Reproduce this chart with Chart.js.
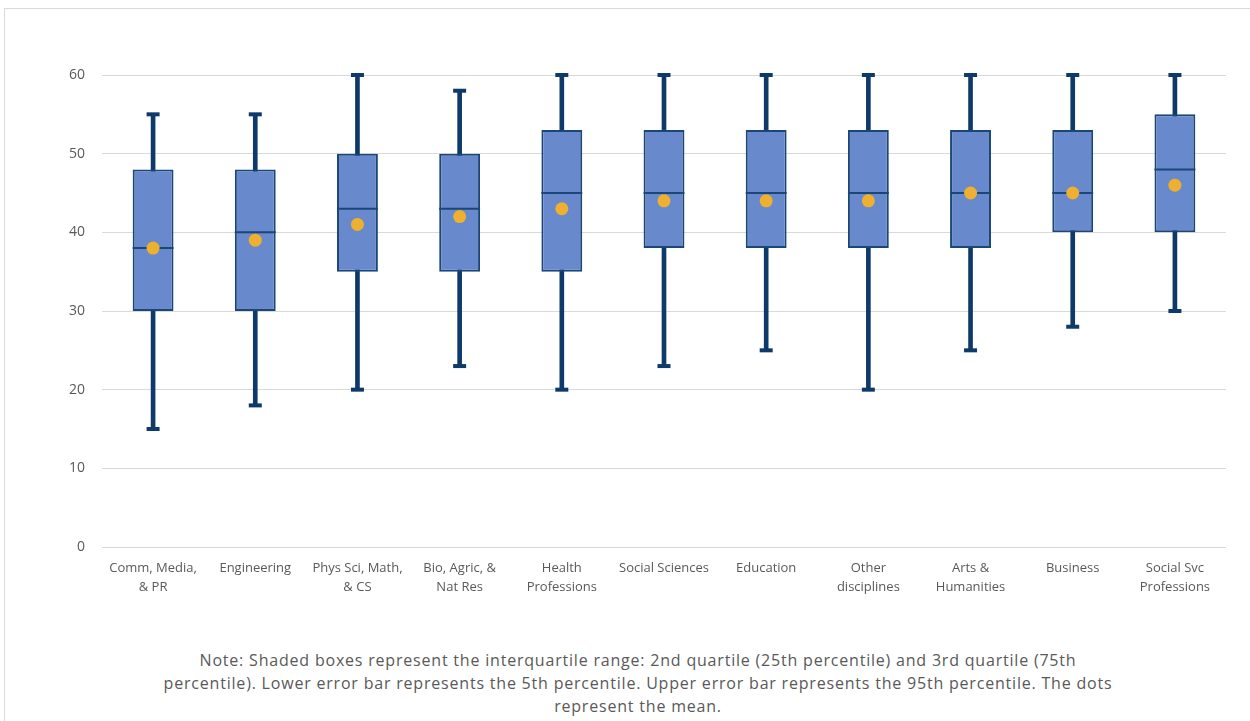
<!DOCTYPE html>
<html>
<head>
<meta charset="utf-8">
<script src="https://cdn.jsdelivr.net/npm/chart.js@4.4.1/dist/chart.umd.min.js"></script>
<style>
  html, body { margin: 0; padding: 0; background: #fff; }
  body { width: 1250px; height: 721px; position: relative; overflow: hidden; }
  #frame { position: absolute; left: 4px; top: 8px; width: 1260px; height: 730px; border: 1px solid #d9d9d9; box-sizing: border-box; }
  #wrap { position: absolute; left: 0; top: 0; width: 1250px; height: 620px; }
  #note { position: absolute; left: 0; top: 649px; width: 1276px; text-align: center;
          font-family: "Open Sans", "Liberation Sans", Arial, sans-serif; font-size: 16px; letter-spacing: 0.8px;
          line-height: 23px; color: #595959; }
</style>
</head>
<body>
<div id="frame"></div>
<div id="wrap"><canvas id="c" width="1250" height="620"></canvas></div>
<div id="note">Note: Shaded boxes represent the interquartile range: 2nd quartile (25th percentile) and 3rd quartile (75th<br>percentile). Lower error bar represents the 5th percentile. Upper error bar represents the 95th percentile. The dots<br>represent the mean.</div>
<script>
const categories = [
  ["Comm, Media,", "& PR"],
  "Engineering",
  ["Phys Sci, Math,", "& CS"],
  ["Bio, Agric, &", "Nat Res"],
  ["Health", "Professions"],
  "Social Sciences",
  "Education",
  ["Other", "disciplines"],
  ["Arts &", "Humanities"],
  "Business",
  ["Social Svc", "Professions"]
];
const p5     = [15, 18, 20, 23, 20, 23, 25, 20, 25, 28, 30];
const q1     = [30, 30, 35, 35, 35, 38, 38, 38, 38, 40, 40];
const median = [38, 40, 43, 43, 45, 45, 45, 45, 45, 45, 48];
const q3     = [48, 48, 50, 50, 53, 53, 53, 53, 53, 53, 55];
const p95    = [55, 55, 60, 58, 60, 60, 60, 60, 60, 60, 60];
const mean   = [38, 39, 41, 42, 43, 44, 44, 44, 45, 45, 46];
const yTicks = [0, 10, 20, 30, 40, 50, 60];

const NAVY = "#0e3a6b";
const BOX_BORDER = "#1a4778";
const BOX_FILL = "#6889cb";
const DOT = "#efb02f";

const boxExtras = {
  id: "boxExtras",
  afterDatasetDraw(chart, args) {
    if (args.index !== 1) return;
    const ctx = chart.ctx;
    const x = chart.scales.x, y = chart.scales.y;
    const boxMeta = chart.getDatasetMeta(1);
    ctx.save();
    ctx.fillStyle = NAVY;
    for (let i = 0; i < categories.length; i++) {
      const cx = x.getPixelForValue(i);
      [p5[i], p95[i]].forEach(v => {
        const py = y.getPixelForValue(v);
        ctx.fillRect(cx - 6.5, py - 2, 13, 4);
      });
    }
    ctx.strokeStyle = BOX_BORDER;
    ctx.lineWidth = 2;
    for (let i = 0; i < categories.length; i++) {
      const el = boxMeta.data[i];
      const half = el.width / 2;
      const cx = el.x;
      const py = y.getPixelForValue(median[i]);
      ctx.beginPath();
      ctx.moveTo(cx - half, py);
      ctx.lineTo(cx + half, py);
      ctx.stroke();
    }
    ctx.restore();
  }
};

new Chart(document.getElementById("c"), {
  data: {
    labels: categories,
    datasets: [
      {
        type: "line",
        label: "Mean",
        data: mean,
        showLine: false,
        pointRadius: 6.5,
        pointHoverRadius: 6.5,
        pointBackgroundColor: DOT,
        pointBorderColor: DOT,
        pointBorderWidth: 0,
        order: 0
      },
      {
        type: "bar",
        label: "IQR",
        data: q1.map((v, i) => [v, q3[i]]),
        backgroundColor: BOX_FILL,
        borderColor: BOX_BORDER,
        borderWidth: 2,
        borderSkipped: false,
        categoryPercentage: 1,
        barPercentage: 0.4,
        grouped: false,
        order: 1
      },
      {
        type: "bar",
        label: "Range",
        data: p5.map((v, i) => [v, p95[i]]),
        backgroundColor: NAVY,
        borderWidth: 0,
        barThickness: 4,
        grouped: false,
        order: 2
      }
    ]
  },
  options: {
    responsive: false,
    animation: false,
    clip: false,
    layout: { padding: { left: 0, right: 24, top: 75, bottom: 0 } },
    plugins: { legend: { display: false }, tooltip: { enabled: false } },
    scales: {
      x: {
        type: "category",
        grid: { display: false, drawTicks: false },
        border: { display: false },
        ticks: {
          color: "#595959",
          font: { family: "Open Sans, Liberation Sans, Arial, sans-serif", size: 13, lineHeight: 1.45 },
          padding: 12,
          maxRotation: 0,
          autoSkip: false
        },
        afterFit(s) { s.height = 73; }
      },
      y: {
        min: 0,
        max: 60,
        afterBuildTicks(s) { s.ticks = yTicks.map(v => ({ value: v })); },
        grid: { color: "#d9d9d9", lineWidth: 1, drawTicks: false },
        border: { display: false },
        ticks: {
          color: "#595959",
          font: { family: "Open Sans, Liberation Sans, Arial, sans-serif", size: 14 },
          padding: 17
        },
        afterFit(s) { s.width = 102; }
      }
    }
  },
  plugins: [boxExtras]
});
</script>
</body>
</html>
